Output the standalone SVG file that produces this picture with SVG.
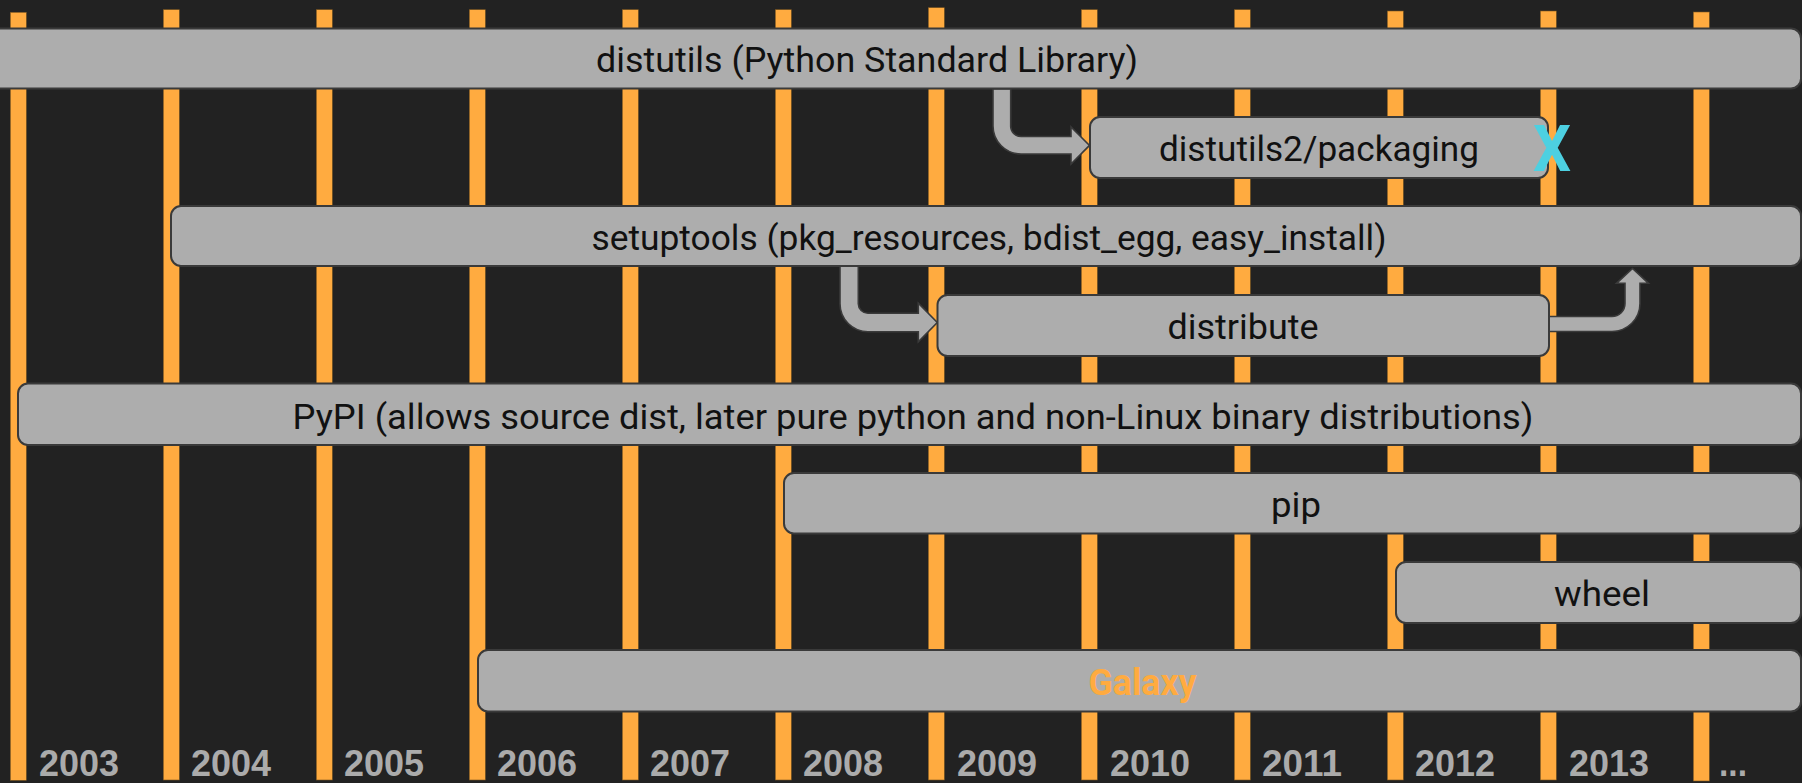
<svg xmlns="http://www.w3.org/2000/svg" width="1802" height="783" viewBox="0 0 1802 783">
<style>
.bar{fill:#FFAB40;stroke:#7a5520;stroke-width:0.6}
.box{fill:#ADADAD;stroke:#3a3a3a;stroke-width:2}
.lbl{font-family:Roboto,"Liberation Sans",sans-serif;font-size:35px;fill:#111;text-anchor:middle}
.yr{font-family:"Liberation Sans",Roboto,sans-serif;font-size:36px;font-weight:700;fill:#ABABAB}
.arr{fill:#ADADAD;stroke:#3a3a3a;stroke-width:1.6;stroke-linejoin:miter}
</style>
<rect x="0" y="0" width="1802" height="783" fill="#222222"/>
<g id="timeline">
<rect class="bar" x="10.3" y="12.3" width="16" height="768"/>
<rect class="bar" x="163.3" y="9.7" width="16" height="770.3"/>
<rect class="bar" x="316.3" y="9.7" width="16" height="770.3"/>
<rect class="bar" x="469.3" y="9.7" width="16" height="770.3"/>
<rect class="bar" x="622.3" y="9.7" width="16" height="770.3"/>
<rect class="bar" x="775.3" y="9.7" width="16" height="770.3"/>
<rect class="bar" x="928.3" y="7.7" width="16" height="772.3"/>
<rect class="bar" x="1081.3" y="9.7" width="16" height="770.3"/>
<rect class="bar" x="1234.3" y="9.7" width="16" height="770.3"/>
<rect class="bar" x="1387.3" y="11" width="16" height="769"/>
<rect class="bar" x="1540.3" y="11" width="16" height="769"/>
<rect class="bar" x="1693.3" y="12" width="16" height="769"/>
<text class="yr" x="39" y="775.5" textLength="80" lengthAdjust="spacingAndGlyphs">2003</text>
<text class="yr" x="191" y="775.5" textLength="80" lengthAdjust="spacingAndGlyphs">2004</text>
<text class="yr" x="344" y="775.5" textLength="80" lengthAdjust="spacingAndGlyphs">2005</text>
<text class="yr" x="497" y="775.5" textLength="80" lengthAdjust="spacingAndGlyphs">2006</text>
<text class="yr" x="650" y="775.5" textLength="80" lengthAdjust="spacingAndGlyphs">2007</text>
<text class="yr" x="803" y="775.5" textLength="80" lengthAdjust="spacingAndGlyphs">2008</text>
<text class="yr" x="957" y="775.5" textLength="80" lengthAdjust="spacingAndGlyphs">2009</text>
<text class="yr" x="1110" y="775.5" textLength="80" lengthAdjust="spacingAndGlyphs">2010</text>
<text class="yr" x="1262" y="775.5" textLength="80" lengthAdjust="spacingAndGlyphs">2011</text>
<text class="yr" x="1415" y="775.5" textLength="80" lengthAdjust="spacingAndGlyphs">2012</text>
<text class="yr" x="1569" y="775.5" textLength="80" lengthAdjust="spacingAndGlyphs">2013</text>
<text class="yr" x="1719" y="775.5" textLength="28" lengthAdjust="spacingAndGlyphs">...</text>
</g>
<g id="connectors">
<path class="arr" d="M 993 89 L 1010.7 89 L 1010.7 126 A 10.3 10.3 0 0 0 1021 136.5 L 1071 136.5 L 1071 127 L 1089.5 145.4 L 1071 164 L 1071 154 L 1021 154 A 28 28 0 0 1 993 126 Z"/>
<path class="arr" d="M 840 266 L 858.3 266 L 858.3 303.7 A 9.7 9.7 0 0 0 868 313.3 L 918.3 313.3 L 918.3 303.3 L 937.3 322.5 L 918.3 341.7 L 918.3 331.7 L 868 331.7 A 28 28 0 0 1 840 303.7 Z"/>
<path class="arr" d="M 1548 316.5 L 1612 316.5 A 13 13 0 0 0 1625 303.5 L 1625 283.3 L 1616.5 283.3 L 1632.5 268.5 L 1648.5 283.3 L 1640 283.3 L 1640 303.5 A 28 28 0 0 1 1612 331.5 L 1548 331.5 Z"/>
</g>
<g id="distutils">
<rect class="box" x="-67" y="28.5" width="1868" height="60" rx="10"/>
<text class="lbl" x="867" y="72" textLength="542" lengthAdjust="spacingAndGlyphs">distutils (Python Standard Library)</text>
</g>
<g id="distutils2">
<rect class="box" x="1090" y="117" width="458" height="61" rx="10"/>
<text class="lbl" x="1319" y="161" textLength="320" lengthAdjust="spacingAndGlyphs">distutils2/packaging</text>
<text x="1552" y="171" font-family="Roboto,'Liberation Sans',sans-serif" font-size="64" font-weight="700" fill="#4DD0E1" text-anchor="middle" textLength="38" lengthAdjust="spacingAndGlyphs">X</text>
</g>
<g id="setuptools">
<rect class="box" x="171" y="206" width="1630" height="60" rx="10"/>
<text class="lbl" x="989" y="250" textLength="795" lengthAdjust="spacingAndGlyphs">setuptools (pkg_resources, bdist_egg, easy_install)</text>
</g>
<g id="distribute">
<rect class="box" x="937.5" y="295" width="611.5" height="61" rx="10"/>
<text class="lbl" x="1243" y="339" textLength="151" lengthAdjust="spacingAndGlyphs">distribute</text>
</g>
<g id="pypi">
<rect class="box" x="18" y="383.5" width="1783" height="61.5" rx="10"/>
<text class="lbl" x="913" y="428.5" textLength="1241" lengthAdjust="spacingAndGlyphs">PyPI (allows source dist, later pure python and non-Linux binary distributions)</text>
</g>
<g id="pip">
<rect class="box" x="784" y="473" width="1017" height="60.5" rx="10"/>
<text class="lbl" x="1296" y="517" textLength="50" lengthAdjust="spacingAndGlyphs">pip</text>
</g>
<g id="wheel">
<rect class="box" x="1396" y="562" width="405" height="61" rx="10"/>
<text class="lbl" x="1602" y="606" textLength="96" lengthAdjust="spacingAndGlyphs">wheel</text>
</g>
<g id="galaxy">
<rect class="box" x="478" y="650" width="1323" height="61.5" rx="10"/>
<text x="1142.5" y="695" font-family="Roboto,'Liberation Sans',sans-serif" font-size="36" font-weight="700" fill="#FFAB40" text-anchor="middle" textLength="108" lengthAdjust="spacingAndGlyphs">Galaxy</text>
</g>
</svg>
